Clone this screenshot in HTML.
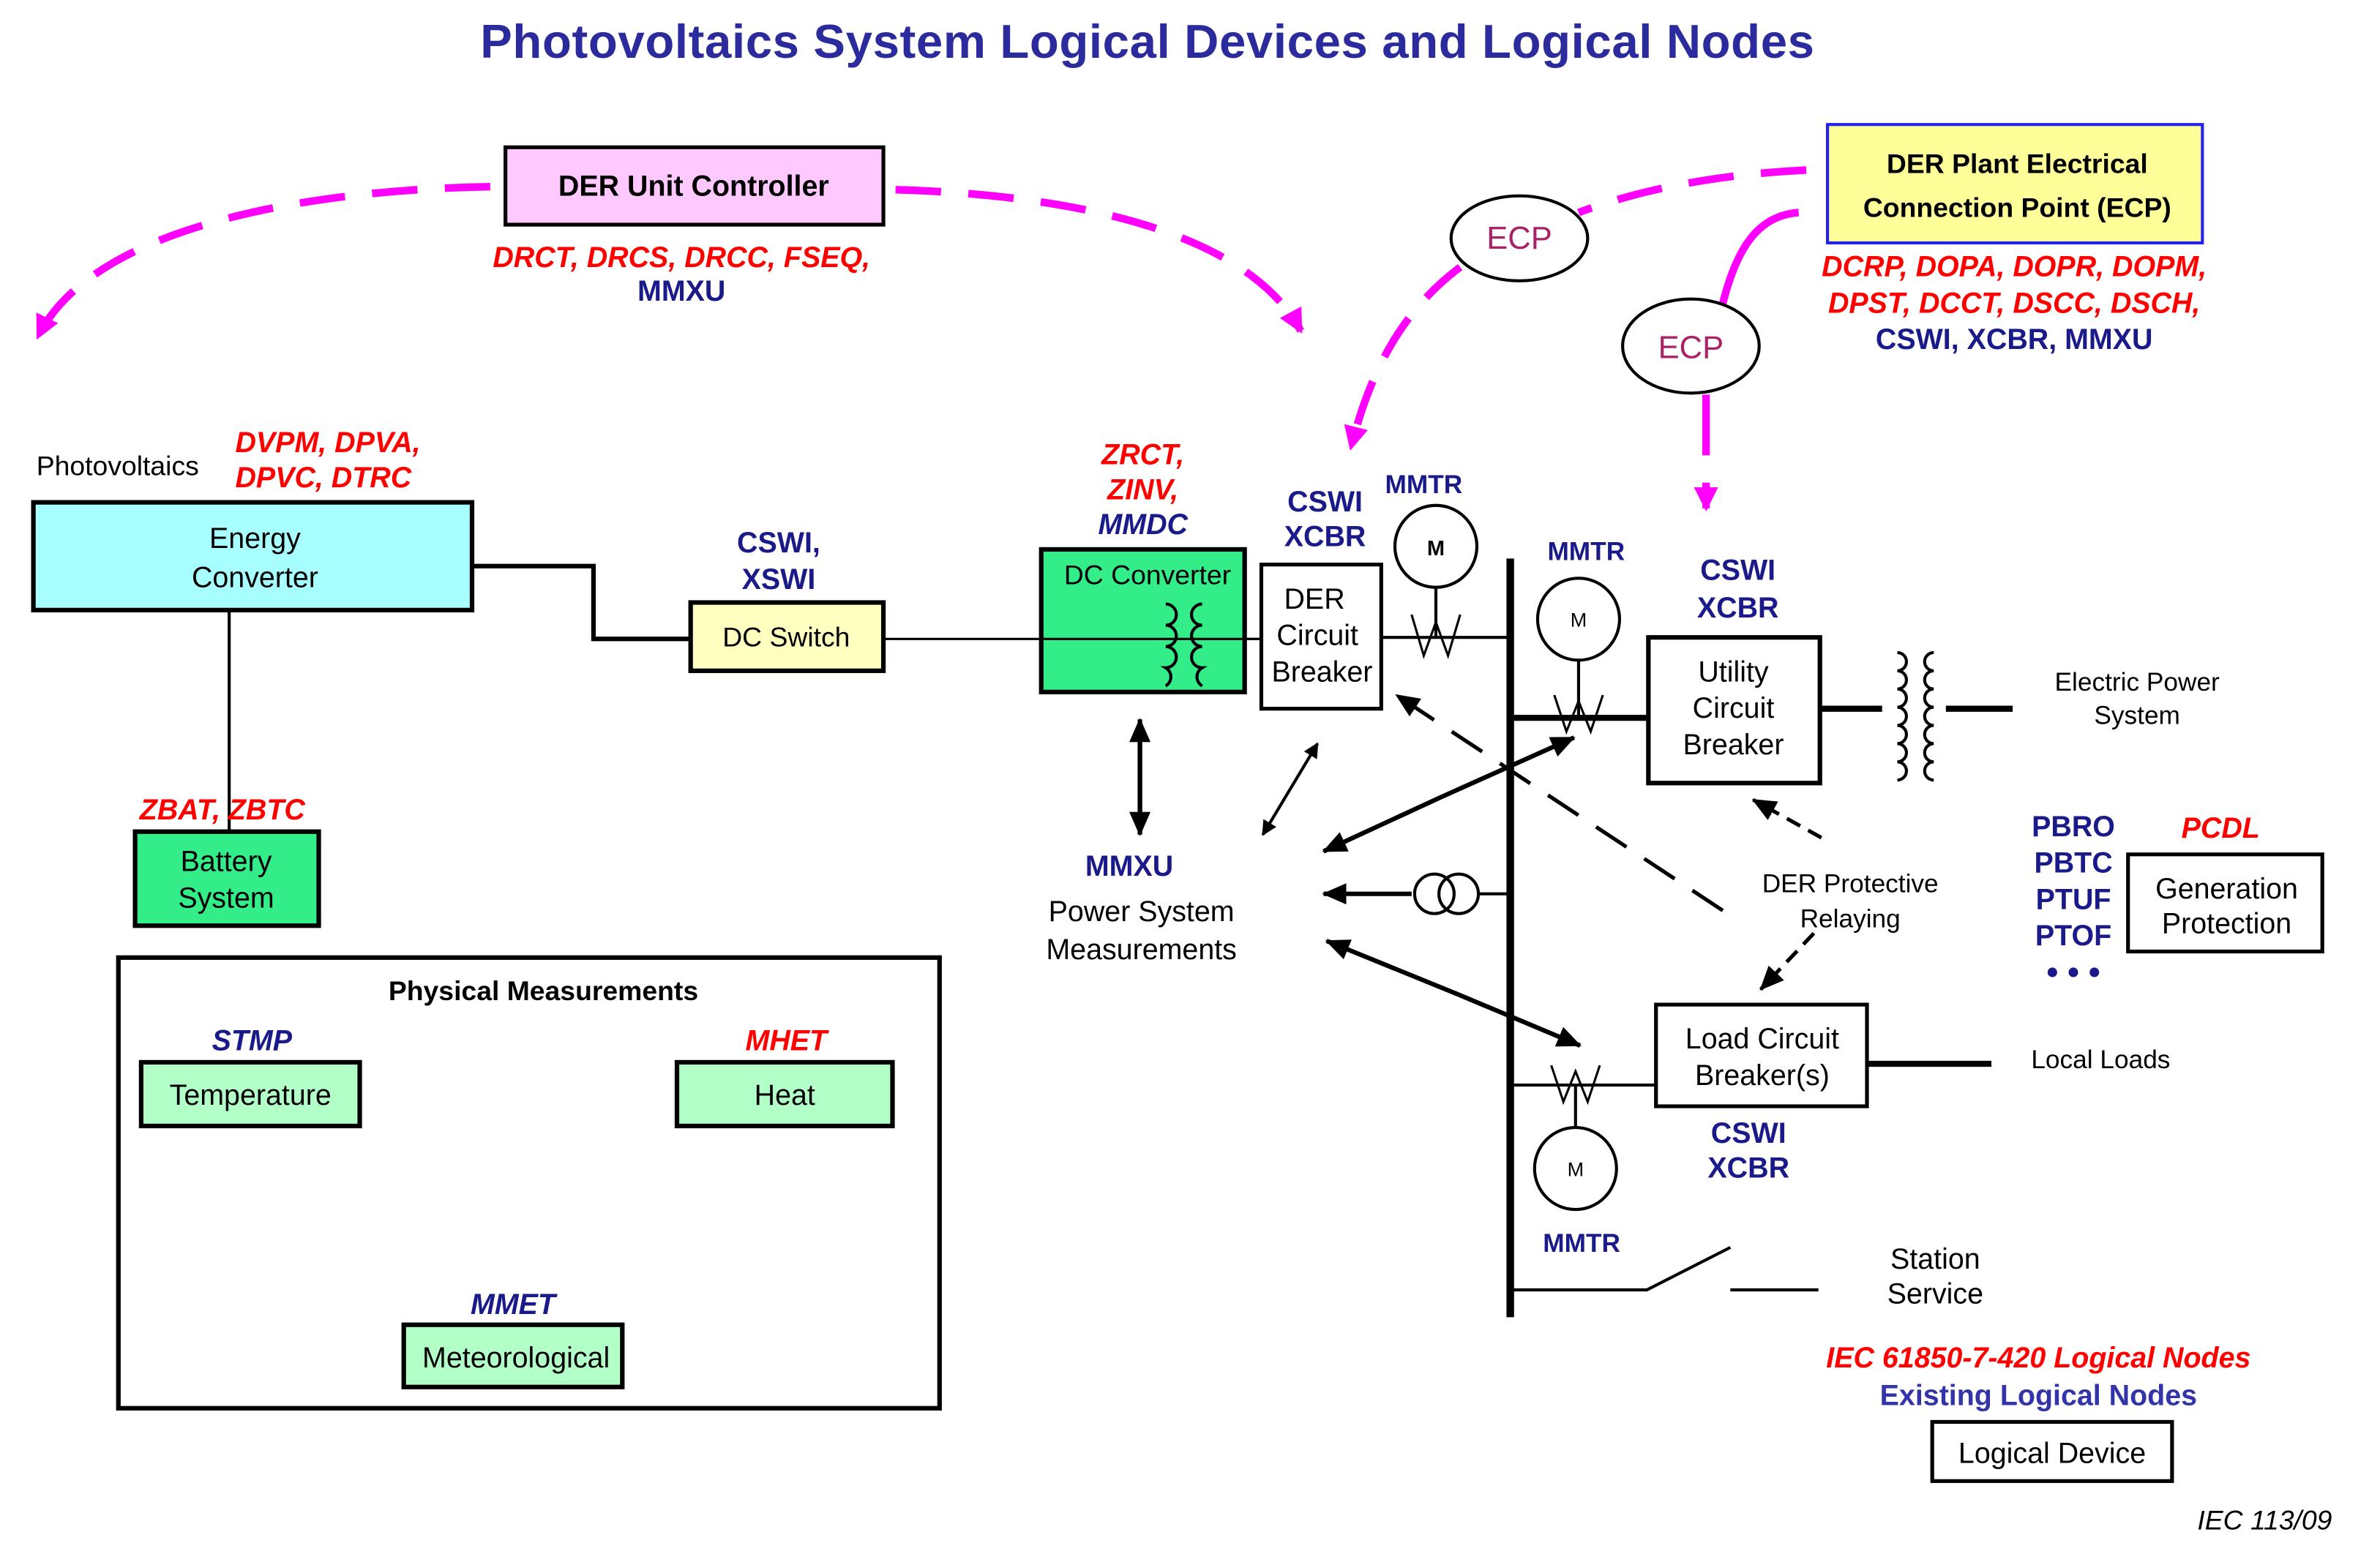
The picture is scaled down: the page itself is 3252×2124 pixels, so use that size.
<!DOCTYPE html>
<html><head><meta charset="utf-8"><style>
html,body{margin:0;padding:0;background:#fff}
svg{display:block}
text{font-family:"Liberation Sans",sans-serif}
.r{fill:#ff0000;font-weight:bold;font-style:italic;font-size:19px}
.n{fill:#1a1a8a;font-weight:bold;font-size:19px}
.ni{fill:#1a1a8a;font-weight:bold;font-style:italic;font-size:19px}
.t{fill:#000;font-size:19px}
.b{fill:#000;font-weight:bold;font-size:18px}
</style></head><body>
<svg width="3252" height="2124" viewBox="0 0 1568 1024" xmlns="http://www.w3.org/2000/svg">
<defs>
<marker id="a" markerWidth="10" markerHeight="10" refX="9" refY="5" orient="auto" markerUnits="userSpaceOnUse" viewBox="0 0 10 10"><path d="M0,0 L10,5 L0,10 z" fill="#000"/></marker>
<marker id="ab" markerWidth="16" markerHeight="14" refX="15" refY="7" orient="auto" markerUnits="userSpaceOnUse" viewBox="0 0 16 14"><path d="M0,0 L16,7 L0,14 z" fill="#000"/></marker>
<marker id="am" markerWidth="16" markerHeight="16" refX="14" refY="8" orient="auto" markerUnits="userSpaceOnUse" viewBox="0 0 16 16"><path d="M0,0 L16,8 L0,16 z" fill="#ff00ff"/></marker>
</defs>
<text x="756" y="38" text-anchor="middle" style="font-size:31.5px;font-weight:bold;fill:#2b2b9e;letter-spacing:0.3px">Photovoltaics System Logical Devices and Logical Nodes</text>

<g fill="none" stroke="#ff00ff" stroke-width="5" stroke-dasharray="30,18">
<path d="M323,123 C200,125 60,150 25,222" marker-end="url(#am)"/>
<path d="M590,125 C700,128 820,150 857,218" marker-end="url(#am)"/>
<path d="M1190,112 C1130,115 1080,125 1040,140"/>
<path d="M962,176 C930,200 905,235 890,295" marker-end="url(#am)"/>
<path d="M1185,140 C1160,142 1145,160 1135,200" stroke-dasharray="none"/>
<path d="M1124,260 L1124,300" stroke-dasharray="none"/>
<path d="M1124,318 L1124,335" stroke-dasharray="none" marker-end="url(#am)"/>
</g>
<ellipse cx="1001" cy="157" rx="45" ry="28" fill="#fff" stroke="#000" stroke-width="2"/>
<text x="1001" y="164" text-anchor="middle" style="font-size:21px;fill:#aa2266">ECP</text>
<ellipse cx="1114" cy="228" rx="45" ry="31" fill="#fff" stroke="#000" stroke-width="2"/>
<text x="1114" y="236" text-anchor="middle" style="font-size:21px;fill:#aa2266">ECP</text>

<rect x="333" y="97" width="249" height="51" fill="#ffc8ff" stroke="#000" stroke-width="2.5"/>
<text x="457" y="129" text-anchor="middle" class="b" style="font-size:19px">DER Unit Controller</text>
<text x="449" y="176" text-anchor="middle" class="r">DRCT, DRCS, DRCC, FSEQ,</text>
<text x="449" y="198" text-anchor="middle" class="n">MMXU</text>

<rect x="1204" y="82" width="247" height="78" fill="#ffff99" stroke="#2222ee" stroke-width="2"/>
<text x="1329" y="114" text-anchor="middle" class="b">DER Plant Electrical</text>
<text x="1329" y="143" text-anchor="middle" class="b">Connection Point (ECP)</text>
<text x="1327" y="182" text-anchor="middle" class="r">DCRP, DOPA, DOPR,  DOPM,</text>
<text x="1327" y="206" text-anchor="middle" class="r">DPST, DCCT, DSCC, DSCH,</text>
<text x="1327" y="230" text-anchor="middle" class="n">CSWI, XCBR, MMXU</text>

<text x="24" y="313" class="t" style="font-size:18px">Photovoltaics</text>
<text x="155" y="298" class="r">DVPM, DPVA,</text>
<text x="155" y="321" class="r">DPVC, DTRC</text>
<rect x="22" y="331" width="289" height="71" fill="#a8ffff" stroke="#000" stroke-width="3"/>
<text x="168" y="361" text-anchor="middle" class="t">Energy</text>
<text x="168" y="387" text-anchor="middle" class="t">Converter</text>
<polyline points="311,373 391,373 391,421 455,421" fill="none" stroke="#000" stroke-width="3"/>
<line x1="151" y1="402" x2="151" y2="548" stroke="#000" stroke-width="2"/>
<text x="92" y="540" class="r">ZBAT, ZBTC</text>
<rect x="89" y="548" width="121" height="62" fill="#33ee88" stroke="#000" stroke-width="3"/>
<text x="149" y="574" text-anchor="middle" class="t">Battery</text>
<text x="149" y="598" text-anchor="middle" class="t">System</text>

<text x="513" y="364" text-anchor="middle" class="n">CSWI,</text>
<text x="513" y="388" text-anchor="middle" class="n">XSWI</text>
<rect x="455" y="397" width="127" height="45" fill="#ffffc0" stroke="#000" stroke-width="3"/>
<text x="518" y="426" text-anchor="middle" class="t" style="font-size:18px">DC Switch</text>
<line x1="582" y1="421" x2="831" y2="421" stroke="#000" stroke-width="1.5"/>

<text x="753" y="306" text-anchor="middle" class="r">ZRCT,</text>
<text x="753" y="329" text-anchor="middle" class="r">ZINV,</text>
<text x="753" y="352" text-anchor="middle" class="ni">MMDC</text>
<rect x="686" y="362" width="134" height="94" fill="#33ee88" stroke="#000" stroke-width="3"/>
<line x1="686" y1="421" x2="831" y2="421" stroke="#000" stroke-width="1.5"/>
<text x="756" y="385" text-anchor="middle" class="t" style="font-size:18px">DC Converter</text>
<g fill="none" stroke="#000" stroke-width="2">
<path d="M768,398 a7,7 0 0 1 0,14 a7,7 0 0 1 0,14 a7,7 0 0 1 0,14 a7,7 0 0 1 0,12"/>
<path d="M792,398 a7,7 0 0 0 0,14 a7,7 0 0 0 0,14 a7,7 0 0 0 0,14 a7,7 0 0 0 0,12"/>
</g>

<text x="873" y="337" text-anchor="middle" class="n">CSWI</text>
<text x="873" y="360" text-anchor="middle" class="n">XCBR</text>
<rect x="831" y="372" width="79" height="95" fill="#fff" stroke="#000" stroke-width="2.5"/>
<text x="866" y="401" text-anchor="middle" class="t">DER</text>
<text x="868" y="425" text-anchor="middle" class="t">Circuit</text>
<text x="871" y="449" text-anchor="middle" class="t">Breaker</text>

<text x="938" y="325" text-anchor="middle" class="n" style="font-size:17px">MMTR</text>
<circle cx="946" cy="360" r="27" fill="#fff" stroke="#000" stroke-width="2"/>
<text x="946" y="366" text-anchor="middle" style="font-size:14px;font-weight:bold">M</text>
<line x1="946" y1="387" x2="946" y2="420" stroke="#000" stroke-width="2"/>
<line x1="910" y1="420" x2="995" y2="420" stroke="#000" stroke-width="2"/>
<polyline points="930,405 938,432 946,410 954,432 962,405" fill="none" stroke="#000" stroke-width="1.5"/>

<line x1="995" y1="368" x2="995" y2="868" stroke="#000" stroke-width="5"/>

<text x="1045" y="369" text-anchor="middle" class="n" style="font-size:17px">MMTR</text>
<circle cx="1040" cy="408" r="27" fill="#fff" stroke="#000" stroke-width="2"/>
<text x="1040" y="413" text-anchor="middle" style="font-size:13px">M</text>
<line x1="1040" y1="435" x2="1040" y2="473" stroke="#000" stroke-width="2"/>
<line x1="995" y1="473" x2="1086" y2="473" stroke="#000" stroke-width="4"/>
<polyline points="1024,458 1032,482 1040,462 1048,482 1056,458" fill="none" stroke="#000" stroke-width="1.5"/>

<text x="1145" y="382" text-anchor="middle" class="n">CSWI</text>
<text x="1145" y="407" text-anchor="middle" class="n">XCBR</text>
<rect x="1086" y="420" width="113" height="96" fill="#fff" stroke="#000" stroke-width="3"/>
<text x="1142" y="449" text-anchor="middle" class="t">Utility</text>
<text x="1142" y="473" text-anchor="middle" class="t">Circuit</text>
<text x="1142" y="497" text-anchor="middle" class="t">Breaker</text>
<line x1="1199" y1="467" x2="1326" y2="467" stroke="#000" stroke-width="4"/>
<g fill="none" stroke="#000" stroke-width="2">
<rect x="1240" y="425" width="42" height="84" fill="#fff" stroke="none"/>
<path d="M1250,430 a6,6 0 0 1 0,12 a6,6 0 0 1 0,12 a6,6 0 0 1 0,12 a6,6 0 0 1 0,12 a6,6 0 0 1 0,12 a6,6 0 0 1 0,12 a6,6 0 0 1 0,12"/>
<path d="M1274,430 a6,6 0 0 0 0,12 a6,6 0 0 0 0,12 a6,6 0 0 0 0,12 a6,6 0 0 0 0,12 a6,6 0 0 0 0,12 a6,6 0 0 0 0,12 a6,6 0 0 0 0,12"/>
</g>
<text x="1408" y="455" text-anchor="middle" class="t" style="font-size:17px">Electric Power</text>
<text x="1408" y="477" text-anchor="middle" class="t" style="font-size:17px">System</text>

<text x="1219" y="588" text-anchor="middle" class="t" style="font-size:17px">DER Protective</text>
<text x="1219" y="611" text-anchor="middle" class="t" style="font-size:17px">Relaying</text>
<line x1="1200" y1="552" x2="1155" y2="527" stroke="#000" stroke-width="2.5" stroke-dasharray="10,6" marker-end="url(#ab)"/>
<line x1="1195" y1="615" x2="1160" y2="652" stroke="#000" stroke-width="2.5" stroke-dasharray="10,6" marker-end="url(#ab)"/>
<line x1="1135" y1="600" x2="920" y2="458" stroke="#000" stroke-width="2.5" stroke-dasharray="24,14" marker-end="url(#ab)"/>

<text x="1366" y="551" text-anchor="middle" class="n" style="font-size:19px">PBRO</text>
<text x="1366" y="575" text-anchor="middle" class="n" style="font-size:19px">PBTC</text>
<text x="1366" y="599" text-anchor="middle" class="n" style="font-size:19px">PTUF</text>
<text x="1366" y="623" text-anchor="middle" class="n" style="font-size:19px">PTOF</text>
<text x="1366" y="648" text-anchor="middle" class="n" style="font-size:22px">• • •</text>
<text x="1463" y="552" text-anchor="middle" class="r" style="font-size:19px">PCDL</text>
<rect x="1402" y="563" width="128" height="64" fill="#fff" stroke="#000" stroke-width="2.5"/>
<text x="1467" y="592" text-anchor="middle" class="t">Generation</text>
<text x="1467" y="615" text-anchor="middle" class="t">Protection</text>

<text x="1384" y="704" text-anchor="middle" class="t" style="font-size:17px">Local Loads</text>
<line x1="1231" y1="701" x2="1312" y2="701" stroke="#000" stroke-width="4"/>
<rect x="1091" y="662" width="139" height="67" fill="#fff" stroke="#000" stroke-width="2.5"/>
<text x="1161" y="691" text-anchor="middle" class="t">Load Circuit</text>
<text x="1161" y="715" text-anchor="middle" class="t">Breaker(s)</text>
<line x1="995" y1="715" x2="1091" y2="715" stroke="#000" stroke-width="2"/>
<polyline points="1022,702 1030,726 1038,706 1046,726 1054,702" fill="none" stroke="#000" stroke-width="1.5"/>
<text x="1152" y="753" text-anchor="middle" class="n">CSWI</text>
<text x="1152" y="776" text-anchor="middle" class="n">XCBR</text>
<line x1="1038" y1="715" x2="1038" y2="743" stroke="#000" stroke-width="2"/>
<circle cx="1038" cy="770" r="27" fill="#fff" stroke="#000" stroke-width="2"/>
<text x="1038" y="775" text-anchor="middle" style="font-size:13px">M</text>
<text x="1042" y="825" text-anchor="middle" class="n" style="font-size:17px">MMTR</text>

<polyline points="995,850 1085,850 1140,822" fill="none" stroke="#000" stroke-width="2"/>
<line x1="1140" y1="850" x2="1198" y2="850" stroke="#000" stroke-width="2"/>
<text x="1275" y="836" text-anchor="middle" class="t">Station</text>
<text x="1275" y="859" text-anchor="middle" class="t">Service</text>

<text x="1343" y="901" text-anchor="middle" class="r">IEC 61850-7-420 Logical Nodes</text>
<text x="1343" y="926" text-anchor="middle" class="n" style="fill:#3333aa">Existing Logical Nodes</text>
<rect x="1273" y="937" width="158" height="39" fill="#fff" stroke="#000" stroke-width="2.5"/>
<text x="1352" y="964" text-anchor="middle" class="t">Logical Device</text>
<text x="1492" y="1008" text-anchor="middle" style="font-size:18px;font-style:italic">IEC     113/09</text>

<text x="744" y="577" text-anchor="middle" class="n">MMXU</text>
<text x="752" y="607" text-anchor="middle" class="t">Power System</text>
<text x="752" y="632" text-anchor="middle" class="t">Measurements</text>
<line x1="751" y1="480" x2="751" y2="550" stroke="#000" stroke-width="3" marker-end="url(#ab)"/>
<line x1="751" y1="548" x2="751" y2="474" stroke="#000" stroke-width="3" marker-end="url(#ab)"/>
<line x1="850" y1="520" x2="868" y2="490" stroke="#000" stroke-width="2" marker-end="url(#a)"/>
<line x1="850" y1="520" x2="832" y2="550" stroke="#000" stroke-width="2" marker-end="url(#a)"/>
<line x1="950" y1="525" x2="1037" y2="486" stroke="#000" stroke-width="3" marker-end="url(#ab)"/>
<line x1="950" y1="525" x2="872" y2="561" stroke="#000" stroke-width="3" marker-end="url(#ab)"/>
<line x1="930" y1="589" x2="872" y2="589" stroke="#000" stroke-width="3" marker-end="url(#ab)"/>
<circle cx="945" cy="589" r="13" fill="none" stroke="#000" stroke-width="2"/>
<circle cx="961" cy="589" r="13" fill="none" stroke="#000" stroke-width="2"/>
<line x1="974" y1="589" x2="995" y2="589" stroke="#000" stroke-width="2"/>
<line x1="960" y1="655" x2="874" y2="620" stroke="#000" stroke-width="3" marker-end="url(#ab)"/>
<line x1="960" y1="655" x2="1041" y2="689" stroke="#000" stroke-width="3" marker-end="url(#ab)"/>

<rect x="78" y="631" width="541" height="297" fill="#fff" stroke="#000" stroke-width="3"/>
<text x="358" y="659" text-anchor="middle" class="b">Physical Measurements</text>
<text x="166" y="692" text-anchor="middle" class="ni">STMP</text>
<rect x="93" y="700" width="144" height="42" fill="#b3ffc8" stroke="#000" stroke-width="3"/>
<text x="165" y="728" text-anchor="middle" class="t">Temperature</text>
<text x="518" y="692" text-anchor="middle" class="r">MHET</text>
<rect x="446" y="700" width="142" height="42" fill="#b3ffc8" stroke="#000" stroke-width="3"/>
<text x="517" y="728" text-anchor="middle" class="t">Heat</text>
<text x="338" y="866" text-anchor="middle" class="ni">MMET</text>
<rect x="266" y="873" width="144" height="41" fill="#b3ffc8" stroke="#000" stroke-width="3"/>
<text x="340" y="901" text-anchor="middle" class="t">Meteorological</text>
</svg>
</body></html>
